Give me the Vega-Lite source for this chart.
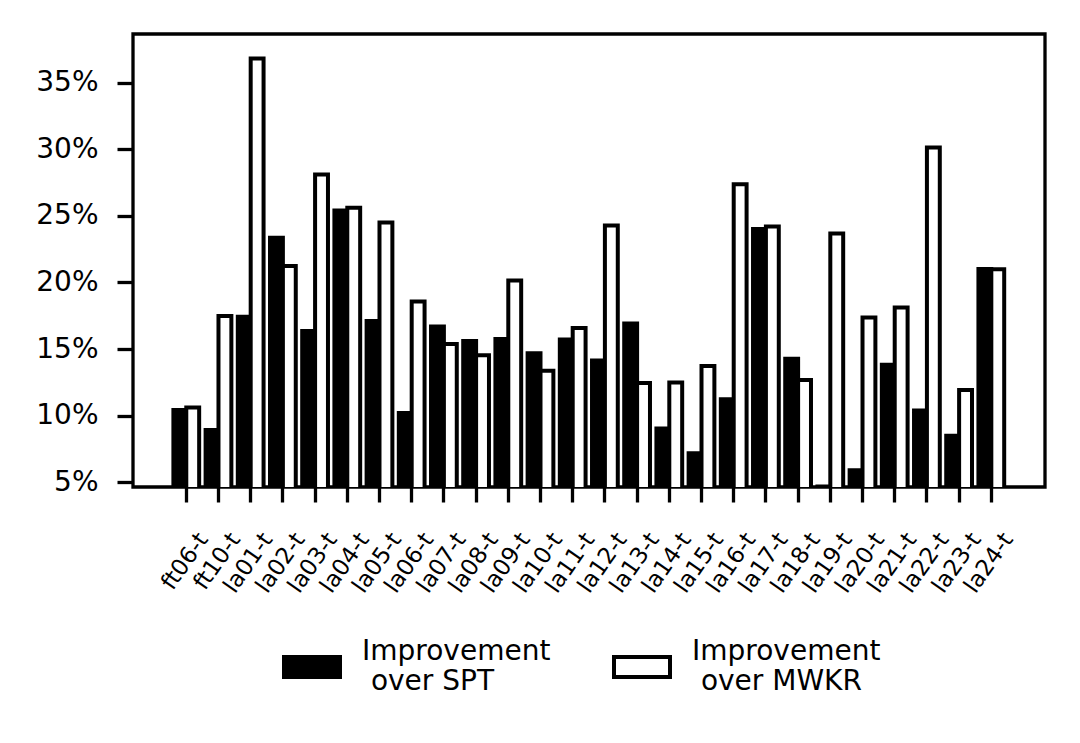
{
  "$schema": "https://vega.github.io/schema/vega-lite/v6.json",
  "width": 912,
  "height": 453,
  "autosize": "none",
  "padding": {"left": 133, "top": 34, "right": 35, "bottom": 256},
  "background": "white",
  "config": {
    "view": {"stroke": "black", "strokeWidth": 3.3},
    "font": "DejaVu Sans"
  },
  "data": {
    "values": [
      {"instance": "ft06-t", "series": "Improvement over SPT", "value": 10.43},
      {"instance": "ft06-t", "series": "Improvement over MWKR", "value": 10.62},
      {"instance": "ft10-t", "series": "Improvement over SPT", "value": 8.93},
      {"instance": "ft10-t", "series": "Improvement over MWKR", "value": 17.48},
      {"instance": "la01-t", "series": "Improvement over SPT", "value": 17.43},
      {"instance": "la01-t", "series": "Improvement over MWKR", "value": 36.81},
      {"instance": "la02-t", "series": "Improvement over SPT", "value": 23.35},
      {"instance": "la02-t", "series": "Improvement over MWKR", "value": 21.23},
      {"instance": "la03-t", "series": "Improvement over SPT", "value": 16.35},
      {"instance": "la03-t", "series": "Improvement over MWKR", "value": 28.1},
      {"instance": "la04-t", "series": "Improvement over SPT", "value": 25.41},
      {"instance": "la04-t", "series": "Improvement over MWKR", "value": 25.6},
      {"instance": "la05-t", "series": "Improvement over SPT", "value": 17.11},
      {"instance": "la05-t", "series": "Improvement over MWKR", "value": 24.5},
      {"instance": "la06-t", "series": "Improvement over SPT", "value": 10.21},
      {"instance": "la06-t", "series": "Improvement over MWKR", "value": 18.58},
      {"instance": "la07-t", "series": "Improvement over SPT", "value": 16.7},
      {"instance": "la07-t", "series": "Improvement over MWKR", "value": 15.38},
      {"instance": "la08-t", "series": "Improvement over SPT", "value": 15.61},
      {"instance": "la08-t", "series": "Improvement over MWKR", "value": 14.53},
      {"instance": "la09-t", "series": "Improvement over SPT", "value": 15.75},
      {"instance": "la09-t", "series": "Improvement over MWKR", "value": 20.15},
      {"instance": "la10-t", "series": "Improvement over SPT", "value": 14.68},
      {"instance": "la10-t", "series": "Improvement over MWKR", "value": 13.38},
      {"instance": "la11-t", "series": "Improvement over SPT", "value": 15.73},
      {"instance": "la11-t", "series": "Improvement over MWKR", "value": 16.58},
      {"instance": "la12-t", "series": "Improvement over SPT", "value": 14.15},
      {"instance": "la12-t", "series": "Improvement over MWKR", "value": 24.28},
      {"instance": "la13-t", "series": "Improvement over SPT", "value": 16.93},
      {"instance": "la13-t", "series": "Improvement over MWKR", "value": 12.46},
      {"instance": "la14-t", "series": "Improvement over SPT", "value": 9.05},
      {"instance": "la14-t", "series": "Improvement over MWKR", "value": 12.5},
      {"instance": "la15-t", "series": "Improvement over SPT", "value": 7.18},
      {"instance": "la15-t", "series": "Improvement over MWKR", "value": 13.73},
      {"instance": "la16-t", "series": "Improvement over SPT", "value": 11.23},
      {"instance": "la16-t", "series": "Improvement over MWKR", "value": 27.38},
      {"instance": "la17-t", "series": "Improvement over SPT", "value": 24.01},
      {"instance": "la17-t", "series": "Improvement over MWKR", "value": 24.2},
      {"instance": "la18-t", "series": "Improvement over SPT", "value": 14.28},
      {"instance": "la18-t", "series": "Improvement over MWKR", "value": 12.68},
      {"instance": "la19-t", "series": "Improvement over SPT", "value": 4.68},
      {"instance": "la19-t", "series": "Improvement over MWKR", "value": 23.68},
      {"instance": "la20-t", "series": "Improvement over SPT", "value": 5.9},
      {"instance": "la20-t", "series": "Improvement over MWKR", "value": 17.38},
      {"instance": "la21-t", "series": "Improvement over SPT", "value": 13.83},
      {"instance": "la21-t", "series": "Improvement over MWKR", "value": 18.13},
      {"instance": "la22-t", "series": "Improvement over SPT", "value": 10.4},
      {"instance": "la22-t", "series": "Improvement over MWKR", "value": 30.13},
      {"instance": "la23-t", "series": "Improvement over SPT", "value": 8.5},
      {"instance": "la23-t", "series": "Improvement over MWKR", "value": 11.93},
      {"instance": "la24-t", "series": "Improvement over SPT", "value": 21.01},
      {"instance": "la24-t", "series": "Improvement over MWKR", "value": 21.0}
    ]
  },
  "mark": {"type": "bar", "clip": true, "stroke": "black", "strokeWidth": 4},
  "encoding": {
    "x": {
      "field": "instance",
      "type": "nominal",
      "sort": null,
      "scale": {"paddingInner": 0.2, "paddingOuter": 1, "range": [8.2, 903.4]},
      "axis": {
        "title": null,
        "domain": false,
        "grid": false,
        "labelAngle": -55,
        "labelAlign": "right",
        "labelBaseline": "middle",
        "labelFont": "DejaVu Sans",
        "labelFontSize": 23,
        "labelColor": "black",
        "labelPadding": 33,
        "labelOffset": 17,
        "tickSize": 15,
        "tickWidth": 3.3,
        "tickColor": "black"
      }
    },
    "xOffset": {
      "field": "series",
      "type": "nominal",
      "scale": {
        "domain": ["Improvement over SPT", "Improvement over MWKR"],
        "paddingInner": 0,
        "paddingOuter": 0
      }
    },
    "y": {
      "field": "value",
      "type": "quantitative",
      "scale": {"domain": [4.65, 38.65], "nice": false, "zero": false},
      "axis": {
        "title": null,
        "domain": false,
        "grid": false,
        "values": [5, 10, 15, 20, 25, 30, 35],
        "labelExpr": "datum.value + '%'",
        "labelFont": "DejaVu Sans",
        "labelFontSize": 28,
        "labelColor": "black",
        "labelPadding": 19,
        "tickSize": 16,
        "tickWidth": 3.3,
        "tickColor": "black"
      }
    },
    "fill": {
      "field": "series",
      "type": "nominal",
      "scale": {
        "domain": ["Improvement over SPT", "Improvement over MWKR"],
        "range": ["black", "white"]
      },
      "legend": {
        "title": null,
        "orient": "none",
        "legendX": 149,
        "legendY": 603,
        "direction": "horizontal",
        "padding": 0,
        "symbolType": "M-1,-0.357H1V0.357H-1Z",
        "symbolSize": 3136,
        "symbolStrokeColor": "black",
        "symbolStrokeWidth": 4,
        "symbolOpacity": 1,
        "labelExpr": "['Improvement', '\u200b\u00a0' + slice(datum.label, 12)]",
        "labelFont": "DejaVu Sans",
        "labelFontSize": 28,
        "labelColor": "black",
        "labelBaseline": "line-bottom",
        "labelLineHeight": 32,
        "labelLimit": 0,
        "labelOffset": 20,
        "columnPadding": 55
      }
    }
  }
}
